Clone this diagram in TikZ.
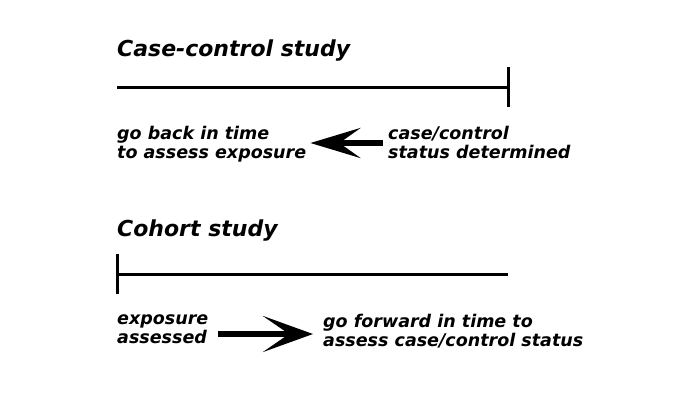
\documentclass[tikz,border=0pt]{standalone}
\usepackage{fontspec}
\setmainfont{DejaVu Sans}
\usetikzlibrary{arrows.meta}
\begin{document}
\begin{tikzpicture}[x=1pt,y=-1pt,
  heading/.style={anchor=base west,inner sep=0pt,font=\fontsize{22}{26}\selectfont\bfseries\itshape},
  label/.style={anchor=north west,inner sep=0pt,align=left,font=\fontsize{17.5}{19}\selectfont\bfseries\itshape},
  timeline/.style={line width=3pt},
  bigarrow/.style={line width=6pt}]
\useasboundingbox[fill=white] (0,0) rectangle (676,392);

% case-control study
\node[heading] (cctitle) at (117,56) {Case-control study};
\coordinate (ccstart) at (117,87);
\coordinate (ccend) at (508,87);
\draw[timeline] (ccstart) -- (ccend);
\draw[timeline] ([yshift=-20pt]ccend) -- ([yshift=20pt]ccend);
\node[label] (back) at (117,126) {go back in time\\to assess exposure};
\node[label] (status) at (388,126) {case/control\\status determined};
\coordinate (ccarrow) at ([xshift=-5pt]status.north west |- 0,143);
\draw[bigarrow,-{Stealth[length=50pt,width=30pt,inset=21pt]}]
  (ccarrow) -- ([xshift=4pt]back.east |- ccarrow);

% cohort study
\node[heading] (cohtitle) at (117,236) {Cohort study};
\coordinate (cohstart) at (117,274);
\coordinate (cohend) at (508,274);
\draw[timeline] (cohstart) -- (cohend);
\draw[timeline] ([yshift=-20pt]cohstart) -- ([yshift=20pt]cohstart);
\node[label] (exposure) at (117,314) {exposure\\assessed};
\node[label] (forward) at (323,314) {go forward in time to\\assess case/control status};
\coordinate (coharrow) at (218,334);
\draw[bigarrow,-{Stealth[length=50pt,width=36pt,inset=26pt]}]
  (coharrow) -- ([xshift=-10pt]forward.west |- coharrow);
\end{tikzpicture}
\end{document}
